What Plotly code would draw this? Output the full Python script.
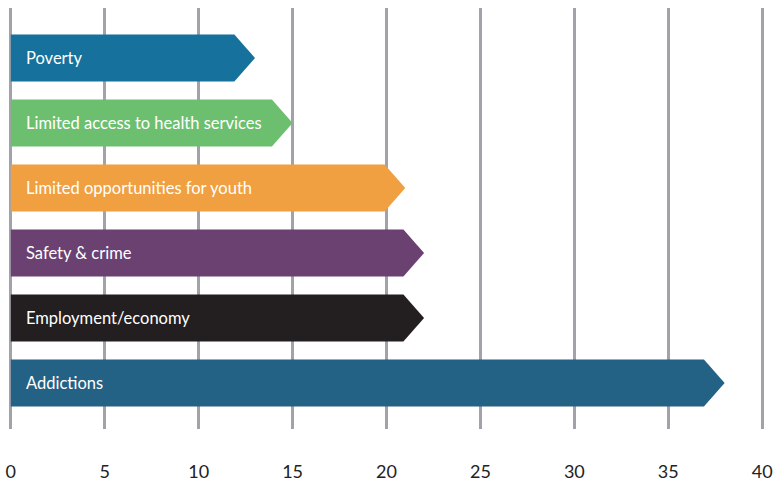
import plotly.graph_objects as go

# Issues ranked from top to bottom, with counts
categories = [
    "Poverty",
    "Limited access to health services",
    "Limited opportunities for youth",
    "Safety & crime",
    "Employment/economy",
    "Addictions",
]
values = [13, 15, 21, 22, 22, 38]
colors = ["#16719c", "#6dbf70", "#f0a041", "#6b4172", "#231f20", "#236185"]
tick_values = [0, 5, 10, 15, 20, 25, 30, 35, 40]

HEAD = 1.1      # arrow head length in axis units
HALF = 0.36     # half bar thickness in category units

fig = go.Figure()
for i, (name, v, c) in enumerate(zip(categories, values, colors)):
    xs = [0, v - HEAD, v, v - HEAD, 0, 0]
    ys = [i - HALF, i - HALF, i, i + HALF, i + HALF, i - HALF]
    fig.add_trace(go.Scatter(
        x=xs, y=ys, mode="lines", fill="toself", fillcolor=c,
        line=dict(width=0, color=c), hoverinfo="text", text=f"{name}: {v}",
        showlegend=False,
    ))
    fig.add_annotation(
        x=0, y=i, xref="x", yref="y", text=name, showarrow=False,
        xanchor="left", xshift=13, yanchor="middle",
        font=dict(family="Lato", size=16.5, color="white"),
    )

fig.update_xaxes(
    range=[-0.15, 40.15], tickvals=tick_values, ticktext=[str(t) for t in tick_values],
    showgrid=True, gridcolor="#a2a2ab", gridwidth=3,
    zeroline=False, showline=False, ticks="", ticklabelstandoff=30,
    tickfont=dict(family="Lato", size=18, color="#222222"),
    automargin=False, fixedrange=True,
)
fig.update_yaxes(
    range=[5.708, -0.769], showgrid=False, zeroline=False, showticklabels=False,
    automargin=False, fixedrange=True,
)
fig.update_layout(
    width=775, height=482,
    margin=dict(l=8, r=10, t=8, b=53),
    paper_bgcolor="white", plot_bgcolor="white",
)
fig.write_html("out.html")
